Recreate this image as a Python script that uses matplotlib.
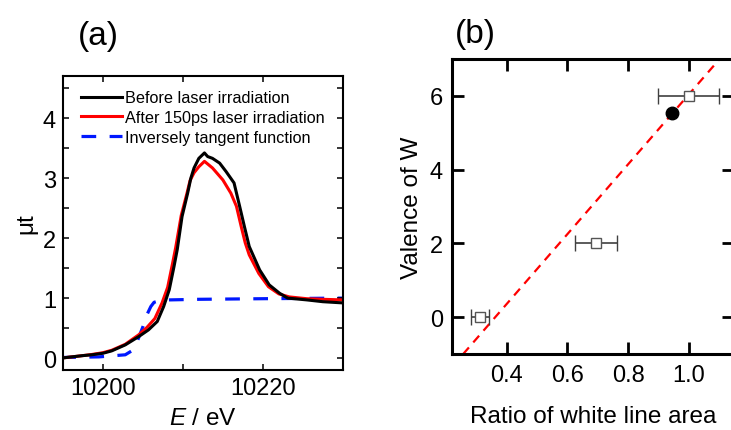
import numpy as np
import matplotlib.pyplot as plt
from matplotlib.ticker import MultipleLocator

plt.rcParams['font.family'] = ['Liberation Sans', 'DejaVu Sans']
plt.rcParams['mathtext.fontset'] = 'custom'
plt.rcParams['mathtext.it'] = 'Liberation Sans:italic'

# (a) XANES spectra
e_before = [10194.8, 10197.4, 10198.6, 10200.0, 10201.1, 10202.8, 10204.5, 10205.7, 10206.8,
            10207.6, 10208.3, 10208.9, 10209.3, 10209.9, 10210.6, 10211.0, 10211.4, 10212.0,
            10212.7, 10213.1, 10213.7, 10214.6, 10215.4, 10216.4, 10217.1, 10217.7, 10218.3,
            10219.6, 10220.8, 10222.1, 10223.1, 10225.5, 10227.5, 10230.0]
mu_before = [0.00, 0.04, 0.055, 0.08, 0.12, 0.22, 0.36, 0.47, 0.61,
             0.86, 1.14, 1.53, 1.81, 2.36, 2.75, 3.00, 3.17, 3.33,
             3.42, 3.36, 3.33, 3.25, 3.11, 2.92, 2.53, 2.19, 1.86,
             1.47, 1.22, 1.08, 1.00, 0.97, 0.94, 0.92]

e_after = [10194.8, 10197.4, 10198.6, 10200.0, 10201.1, 10202.8, 10204.5, 10205.5, 10206.5,
           10207.4, 10208.1, 10208.7, 10209.1, 10209.8, 10210.5, 10210.9, 10211.4, 10212.0,
           10212.7, 10213.7, 10215.0, 10216.0, 10216.7, 10217.3, 10217.8, 10218.3,
           10219.5, 10220.7, 10222.0, 10223.3, 10225.5, 10227.5, 10230.0]
mu_after = [0.00, 0.04, 0.06, 0.09, 0.13, 0.23, 0.39, 0.51, 0.66,
            0.92, 1.18, 1.57, 1.84, 2.38, 2.74, 2.96, 3.09, 3.19,
            3.28, 3.17, 2.97, 2.75, 2.53, 2.19, 1.92, 1.72,
            1.41, 1.19, 1.07, 1.02, 0.99, 0.98, 0.97]

e_atan = [10194.8, 10199.5, 10202.8, 10203.6, 10204.3, 10205.0, 10205.5, 10206.0, 10206.4,
          10207.2, 10208.3, 10212.0, 10220.0, 10230.0]
mu_atan = [0.01, 0.02, 0.055, 0.12, 0.28, 0.52, 0.72, 0.86, 0.93,
           0.96, 0.97, 0.98, 0.99, 1.00]

# (b) valence vs white line area ratio
ratio_ref = [0.31, 0.695, 1.0]
valence_ref = [0, 2, 6]
ratio_err = [0.03, 0.07, 0.10]
ratio_sample = [0.946]
valence_sample = [5.53]
fit_x = [0.255, 1.103]
fit_y = [-1.0, 7.0]

fig = plt.figure(figsize=(7.31, 4.31), dpi=100)

ax1 = fig.add_axes([0.086, 0.139, 0.383, 0.682])
ax1.plot(e_atan, mu_atan, color='#0018ff', lw=2.3, dashes=(4.6, 4.2),
         label='Inversely tangent function', zorder=1)
ax1.plot(e_after, mu_after, color='#ff0000', lw=2.2, label='After 150ps laser irradiation', zorder=2)
ax1.plot(e_before, mu_before, color='black', lw=2.2, label='Before laser irradiation', zorder=3)
ax1.set_xlim(10195, 10230)
ax1.set_ylim(-0.2, 4.7)
ax1.xaxis.set_major_locator(MultipleLocator(20))
ax1.xaxis.set_minor_locator(MultipleLocator(10))
ax1.yaxis.set_major_locator(MultipleLocator(1))
ax1.yaxis.set_minor_locator(MultipleLocator(0.5))
ax1.tick_params(which='both', direction='in', top=True, right=True, length=4.5, width=1.1,
                labelsize=17, pad=5)
for s in ax1.spines.values():
    s.set_linewidth(1.5)
ax1.set_xlabel(r'$\mathit{E}$ / eV', fontsize=17.5, labelpad=6)
ax1.set_ylabel('μt', fontsize=17.5, labelpad=4)
h, l = ax1.get_legend_handles_labels()
ax1.legend(h[::-1], l[::-1], loc='upper left', bbox_to_anchor=(0.03, 0.985), frameon=False,
           fontsize=11.7, handlelength=2.5, handletextpad=0.2, labelspacing=0.3,
           borderaxespad=0.2)
fig.text(0.134, 0.915, '(a)', fontsize=24, ha='center', va='center')

ax2 = fig.add_axes([0.619, 0.176, 0.385, 0.685])
ax2.plot(fit_x, fit_y, color='#ff0000', lw=1.6, dashes=(4, 3), zorder=1)
ax2.errorbar(ratio_ref, valence_ref, xerr=ratio_err, fmt='s', ms=7, mfc='white',
             mec='#555555', mew=1.0, ecolor='#404040', elinewidth=1.2, capsize=6,
             capthick=1.2, zorder=2)
ax2.plot(ratio_sample, valence_sample, 'o', color='black', ms=9, zorder=3)
ax2.set_xlim(0.22, 1.15)
ax2.set_ylim(-1, 7)
ax2.set_xticks([0.4, 0.6, 0.8, 1.0])
ax2.set_yticks([0, 2, 4, 6])
ax2.tick_params(direction='in', top=True, right=True, length=8.5, width=2, labelsize=17, pad=7)
for s in ax2.spines.values():
    s.set_linewidth(2.2)
ax2.set_xlabel('Ratio of white line area', fontsize=17.5, labelpad=14)
ax2.set_ylabel('Valence of W', fontsize=17.5, labelpad=5)
fig.text(0.65, 0.92, '(b)', fontsize=24, ha='center', va='center')

fig.savefig('out.png', dpi=100)
